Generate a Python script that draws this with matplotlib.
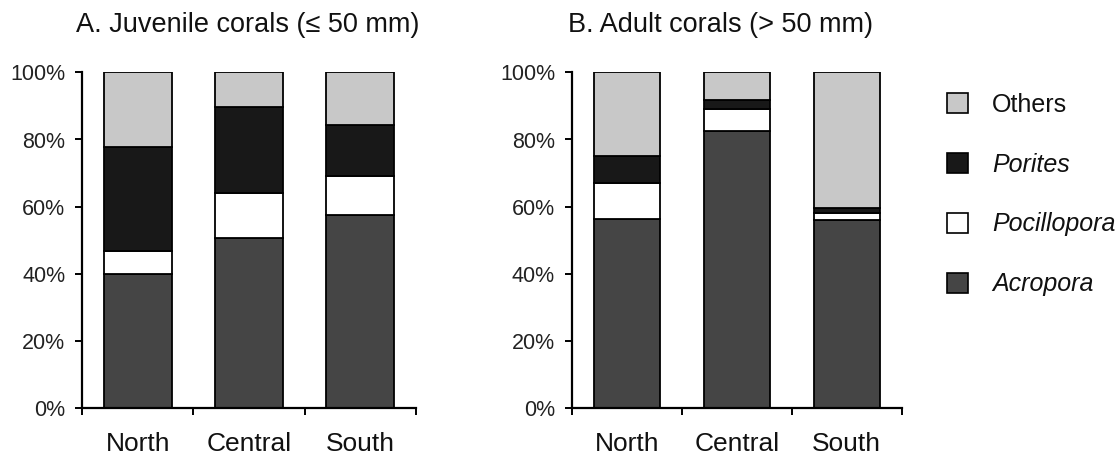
import matplotlib
matplotlib.use("Agg")
import matplotlib.pyplot as plt
import numpy as np
from matplotlib.patches import Patch

plt.rcParams['font.family'] = ['Liberation Sans', 'DejaVu Sans']

regions = ["North", "Central", "South"]
taxa = ["Acropora", "Pocillopora", "Porites", "Others"]

# percentages, bottom to top
juvenile_acropora = [40.0, 50.8, 57.6]
juvenile_pocillopora = [6.8, 13.4, 11.6]
juvenile_porites = [31.0, 25.4, 15.2]
juvenile_others = [22.2, 10.4, 15.6]

adult_acropora = [56.4, 82.5, 56.0]
adult_pocillopora = [10.7, 6.5, 2.0]
adult_porites = [8.1, 2.9, 1.7]
adult_others = [24.8, 8.1, 40.3]

yticks = [0, 20, 40, 60, 80, 100]
ytick_labels = ["0%", "20%", "40%", "60%", "80%", "100%"]

titles = ["A. Juvenile corals (\u2264 50 mm)", "B. Adult corals (> 50 mm)"]

colors = {"Acropora": "#454545", "Pocillopora": "#ffffff",
          "Porites": "#181818", "Others": "#c8c8c8"}

fig = plt.figure(figsize=(11.19, 4.61), dpi=100)
axA = fig.add_axes([82/1119, 1 - 408.3/461, 334/1119, 336/461])
axB = fig.add_axes([571.7/1119, 1 - 408.3/461, 330/1119, 336/461])

datasets = [
    [juvenile_acropora, juvenile_pocillopora, juvenile_porites, juvenile_others],
    [adult_acropora, adult_pocillopora, adult_porites, adult_others],
]

x = np.arange(len(regions))
for ax, data, width in zip([axA, axB], datasets, [0.61, 0.6]):
    bottom = np.zeros(len(regions))
    for name, vals in zip(taxa, data):
        vals = np.array(vals)
        ax.bar(x, vals, width=width, bottom=bottom, color=colors[name],
               edgecolor="black", linewidth=1.3, zorder=2)
        bottom += vals
    ax.set_xlim(-0.5, 2.5)
    ax.set_ylim(0, 100)
    ax.set_yticks(yticks)
    ax.set_yticklabels(ytick_labels, fontsize=15.5, color="#222222")
    ax.set_xticks([-0.5, 0.5, 1.5, 2.5])
    ax.set_xticklabels([])
    ax.set_xticks(x, minor=True)
    ax.set_xticklabels(regions, minor=True, fontsize=19, color="#111111")
    ax.tick_params(axis="x", which="minor", length=0, pad=17)
    ax.tick_params(axis="x", which="major", length=5, width=1.4, direction="out")
    ax.tick_params(axis="y", length=5, width=1.4, direction="out", pad=7)
    for s in ["top", "right"]:
        ax.spines[s].set_visible(False)
    for s in ["left", "bottom"]:
        ax.spines[s].set_linewidth(1.6)
    ax.spines["bottom"].set_zorder(3)

fig.text(248/1119, 1 - 32/461, titles[0], ha="center", va="baseline",
         fontsize=19.5, color="#111111")
fig.text(720/1119, 1 - 32/461, titles[1], ha="center", va="baseline",
         fontsize=19.5, color="#111111")

handles = [Patch(facecolor=colors[t], edgecolor="black", linewidth=1.2)
           for t in ["Others", "Porites", "Pocillopora", "Acropora"]]
labels = ["Others", "Porites", "Pocillopora", "Acropora"]
leg = fig.legend(handles, labels, loc="upper left",
                 bbox_to_anchor=(947/1119, 1 - 93/461),
                 frameon=False, fontsize=18, handlelength=0.85,
                 handleheight=0.85, handletextpad=0.95, labelspacing=1.43,
                 borderaxespad=0, borderpad=0)
for t in leg.get_texts():
    if t.get_text() != "Others":
        t.set_fontstyle("italic")
    t.set_color("#111111")

fig.savefig("out.png", dpi=100)
